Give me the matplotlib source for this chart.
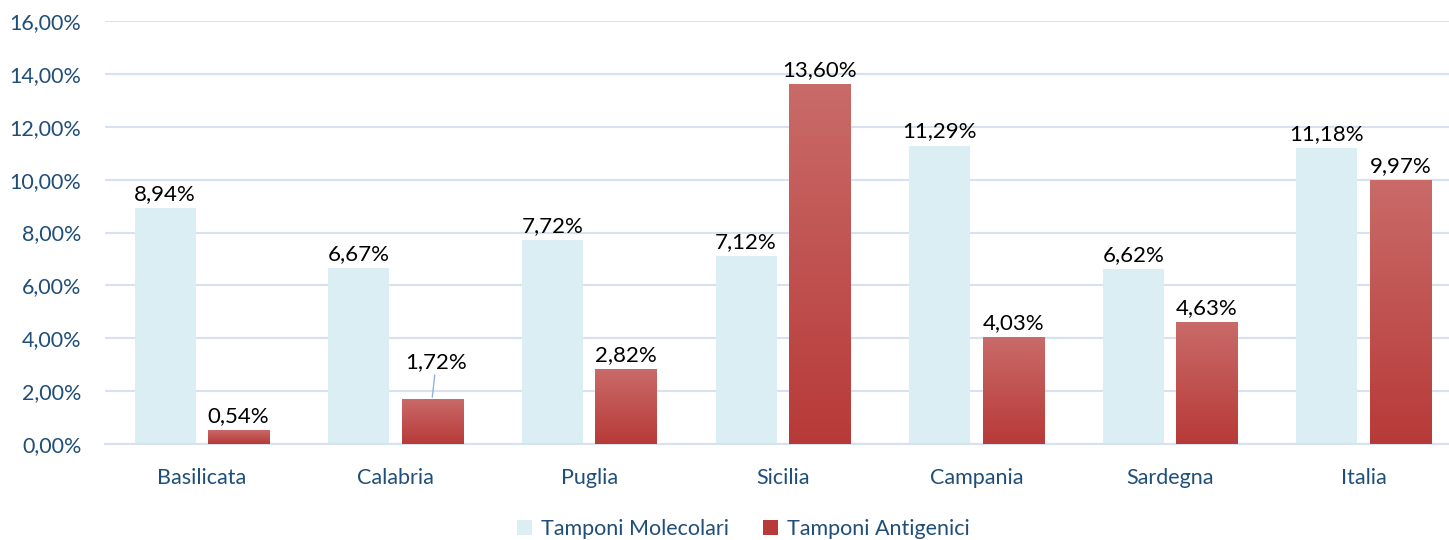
import numpy as np
import matplotlib.pyplot as plt
from matplotlib.ticker import FuncFormatter

regions = ["Basilicata", "Calabria", "Puglia", "Sicilia", "Campania", "Sardegna", "Italia"]
molecolari = [8.94, 6.67, 7.72, 7.12, 11.29, 6.62, 11.18]
antigenici = [0.54, 1.72, 2.82, 13.60, 4.03, 4.63, 9.97]
series_names = ["Tamponi Molecolari", "Tamponi Antigenici"]

plt.rcParams['font.family'] = ['Lato', 'DejaVu Sans']

blue = '#DAEEF3'
red_top = np.array([0xC9, 0x6B, 0x69]) / 255
red_bot = np.array([0xB7, 0x3A, 0x38]) / 255
label_blue = '#1F4E79'
grid_col = '#D6E2F2'

fig = plt.figure(figsize=(14.49, 5.40), dpi=100)
ax = fig.add_axes([105 / 1449, 1 - 444 / 540, 1 - 105 / 1449, (444 - 21) / 540])

x = np.arange(len(regions))
w = 0.315
off = 0.19

b1 = ax.bar(x - off, molecolari, w, color=blue, label=series_names[0], zorder=2)
b2 = ax.bar(x + off, antigenici, w, color=red_bot, label=series_names[1], zorder=2)

# vertical gradient on the red bars
grad = np.linspace(0, 1, 256).reshape(-1, 1)
img = red_bot[None, None, :] * (1 - grad[..., None]) + red_top[None, None, :] * grad[..., None]
for p in b2:
    x0, y0 = p.get_x(), p.get_y()
    im = ax.imshow(img, extent=[x0, x0 + p.get_width(), y0, y0 + p.get_height()],
                   origin='lower', aspect='auto', zorder=3)
    im.set_clip_path(p)

def fmt(v):
    return f"{v:.2f}%".replace('.', ',')

for xi, v in zip(x, molecolari):
    ax.text(xi - off, v + 0.15, fmt(v), ha='center', va='bottom', fontsize=16, color='black', zorder=4)
for i, (xi, v) in enumerate(zip(x, antigenici)):
    if regions[i] == "Calabria":
        ax.annotate(fmt(v), xy=(xi + off, v + 0.05), xytext=(xi + off + 0.02, v + 1.0),
                    ha='center', va='bottom', fontsize=16, color='black', zorder=4,
                    arrowprops=dict(arrowstyle='-', color='#8FB4E3', lw=1, shrinkA=0, shrinkB=0))
    else:
        ax.text(xi + off, v + 0.15, fmt(v), ha='center', va='bottom', fontsize=16, color='black', zorder=4)

ax.set_ylim(0, 16)
ax.set_xlim(-0.5, 6.44)
ax.set_yticks(np.arange(0, 17, 2))
ax.yaxis.set_major_formatter(FuncFormatter(lambda v, _: f"{v:.2f}%".replace('.', ',')))
ax.set_xticks(x)
ax.set_xticklabels(regions)
ax.tick_params(axis='both', length=0, labelsize=15.5, labelcolor=label_blue)
ax.tick_params(axis='x', pad=17)
ax.tick_params(axis='y', pad=17)

ax.grid(axis='y', color=grid_col, lw=1.5, zorder=0)
for s in ['top', 'right', 'left']:
    ax.spines[s].set_visible(False)
ax.spines['bottom'].set_color(grid_col)
ax.spines['bottom'].set_linewidth(1.5)

ax.legend(loc='center', bbox_to_anchor=(0.475, -0.2), ncol=2, frameon=False,
          fontsize=15.5, labelcolor=label_blue, handlelength=0.7, handleheight=0.7,
          columnspacing=1.6, handletextpad=0.4)

fig.savefig('out.png', dpi=100)
